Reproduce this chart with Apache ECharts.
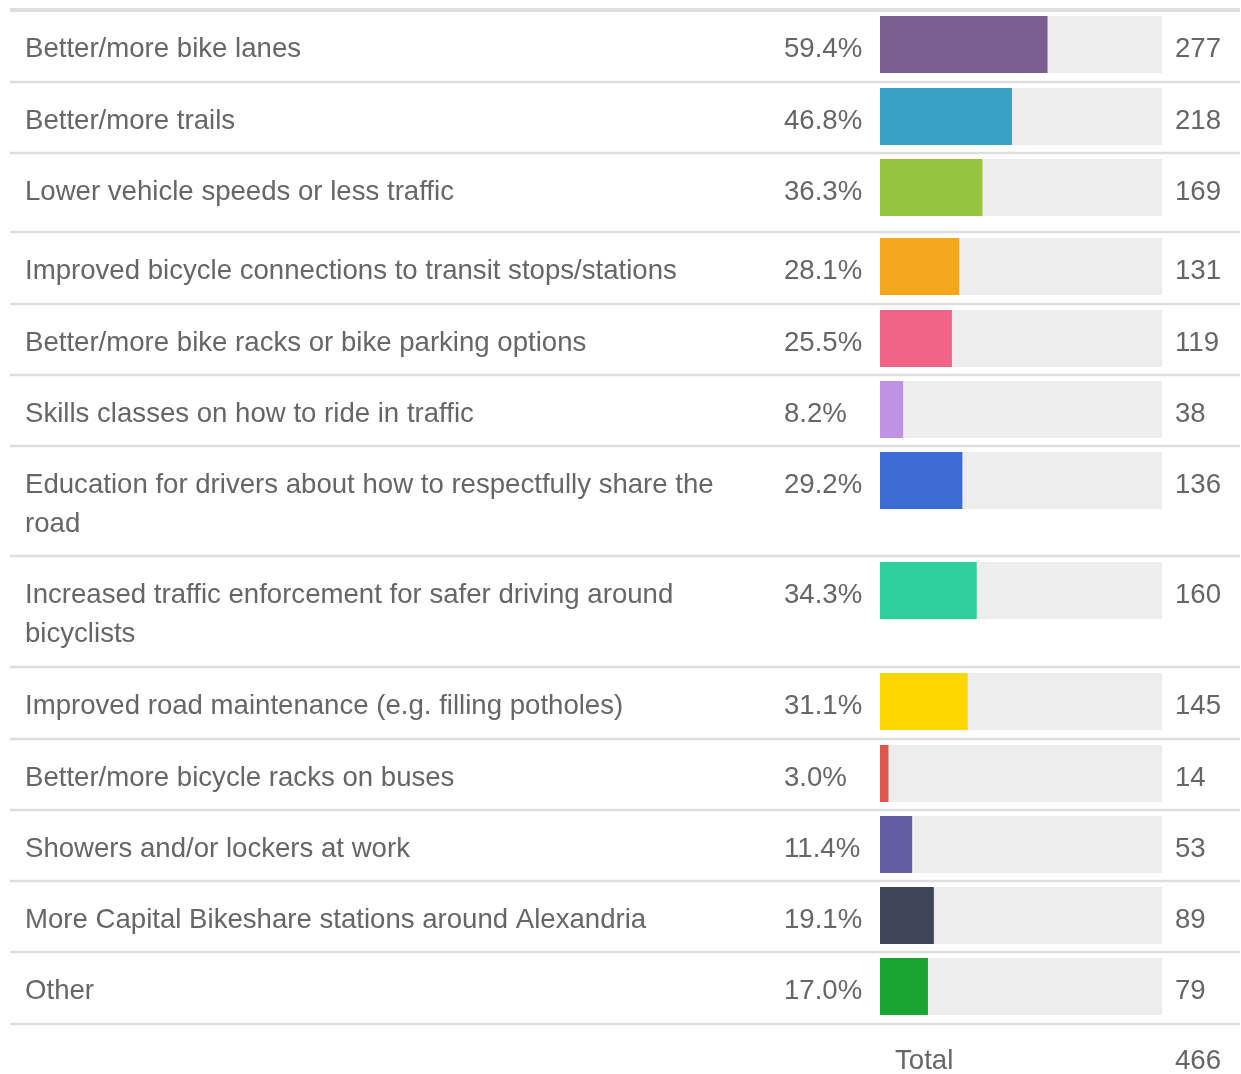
<!DOCTYPE html>
<html>
<head>
<meta charset="utf-8">
<title>Bike improvements</title>
<script src="https://cdn.jsdelivr.net/npm/echarts@6/dist/echarts.min.js"></script>
<style>
  html, body { margin: 0; padding: 0; background: #fff; }
  #chart { width: 1241px; height: 1074px; }
</style>
</head>
<body>
<div id="chart"></div>
<script>
// data
var labels = [
  "Better/more bike lanes",
  "Better/more trails",
  "Lower vehicle speeds or less traffic",
  "Improved bicycle connections to transit stops/stations",
  "Better/more bike racks or bike parking options",
  "Skills classes on how to ride in traffic",
  "Education for drivers about how to respectfully share the\nroad",
  "Increased traffic enforcement for safer driving around\nbicyclists",
  "Improved road maintenance (e.g. filling potholes)",
  "Better/more bicycle racks on buses",
  "Showers and/or lockers at work",
  "More Capital Bikeshare stations around Alexandria",
  "Other"
];
var percents = [59.4, 46.8, 36.3, 28.1, 25.5, 8.2, 29.2, 34.3, 31.1, 3.0, 11.4, 19.1, 17.0];
var counts = [277, 218, 169, 131, 119, 38, 136, 160, 145, 14, 53, 89, 79];
var total = 466;

// styling / layout
var colors = ["#7b5e91", "#37a2c4", "#95c43e", "#f5a61c", "#f06586", "#bf92e2",
              "#3b6cd4", "#2fcf9e", "#fdd500", "#e0564c", "#625ea4", "#40465a", "#1aa432"];
var rowHeights = [72, 71, 79, 72, 71, 71, 110, 111, 72, 71, 71, 71, 72];
var tableTop = 10;
var barLeft = 880, barW = 282, barH = 57, barPad = 6;
var textDy = 5;
var fontCss = "27.6px 'Liberation Sans', Arial, sans-serif";
var font = { fontFamily: "'Liberation Sans', Arial, sans-serif", fontSize: 27.6, color: "#666" };

var chart = echarts.init(document.getElementById("chart"));

var grids = [], xAxes = [], yAxes = [], series = [], graphics = [];
var y = tableTop;

graphics.push({
  type: "line", shape: { x1: 10, y1: y, x2: 1240, y2: y },
  style: { stroke: "#dedede", lineWidth: 4 }
});

labels.forEach(function (name, i) {
  grids.push({ left: barLeft, width: barW, top: y + barPad, height: barH });
  xAxes.push({ type: "value", gridIndex: i, min: 0, max: 100, show: false });
  yAxes.push({ type: "category", gridIndex: i, data: [name], show: false });

  // coloured bar + percent
  series.push({
    type: "bar", xAxisIndex: i, yAxisIndex: i, barWidth: barH, barGap: "-100%",
    silent: true,
    data: [percents[i]],
    itemStyle: { color: colors[i] },
    showBackground: true,
    backgroundStyle: { color: "#ededed" },
    label: Object.assign({
      show: true, position: [-96, barH / 2 + textDy], align: "left", verticalAlign: "middle",
      formatter: function (p) { return p.value.toFixed(1) + "%"; }
    }, font),
    z: 3
  });
  // answer text
  series.push({
    type: "bar", xAxisIndex: i, yAxisIndex: i, barWidth: barH, barGap: "-100%",
    silent: true,
    data: [0],
    itemStyle: { color: "transparent" },
    label: Object.assign({
      show: true, position: [-855, barH / 2 - 19.5 + textDy], align: "left", verticalAlign: "top",
      lineHeight: 39,
      formatter: function () { return name; }
    }, font),
    z: 2
  });
  // count
  series.push({
    type: "bar", xAxisIndex: i, yAxisIndex: i, barWidth: barH, barGap: "-100%",
    silent: true,
    data: [0],
    itemStyle: { color: "transparent" },
    label: Object.assign({
      show: true, position: [295, barH / 2 + textDy], align: "left", verticalAlign: "middle",
      formatter: function () { return String(counts[i]); }
    }, font),
    z: 2
  });

  y += rowHeights[i];
  graphics.push({
    type: "line", shape: { x1: 10, y1: y, x2: 1240, y2: y },
    style: { stroke: "#dedede", lineWidth: 2.5 }
  });
});

graphics.push({
  type: "text", left: 895, top: y + 23,
  style: { text: "Total", fill: font.color, font: fontCss }
});
graphics.push({
  type: "text", left: 1175, top: y + 23,
  style: { text: String(total), fill: font.color, font: fontCss }
});

chart.setOption({
  animation: false,
  grid: grids,
  xAxis: xAxes,
  yAxis: yAxes,
  series: series,
  graphic: graphics
});
</script>
</body>
</html>
